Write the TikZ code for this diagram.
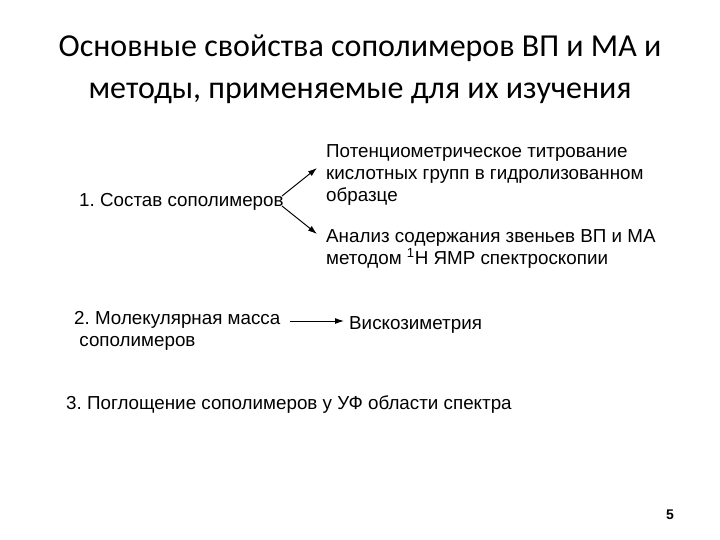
\documentclass[tikz,border=0pt]{standalone}
\usepackage{fontspec}
\usetikzlibrary{arrows.meta}
\setmainfont{Liberation Sans}
\newfontfamily\titlefont{Carlito}
\frenchspacing
\begin{document}
\begin{tikzpicture}[x=1pt,y=-1pt,
  txt/.style={anchor=north west,inner sep=0pt,align=left,font=\fontsize{18.8}{22}\selectfont},
  arr/.style={-{Latex[length=9pt,width=6pt]},line width=1pt}]
\useasboundingbox (0,0) rectangle (720,540);
\node[inner sep=0pt,align=center,font=\titlefont\fontsize{32}{42}\selectfont] (title) at (360,69) {Основные свойства сополимеров ВП и МА и\\методы, применяемые для их изучения};
\node[txt] (s1) at (79,193) {1. Состав сополимеров};
\node[txt] (p1) at (326,144) {Потенциометрическое титрование\\кислотных групп в гидролизованном\\образце};
\node[txt] (p2) at (326,229) {Анализ содержания звеньев ВП и МА\\методом \textsuperscript{1}Н ЯМР спектроскопии};
\node[txt] (s2) at (74,311) {2. Молекулярная масса\\\ сополимеров};
\node[txt] (v) at (349,316) {Вискозиметрия};
\node[txt] (s3) at (66,396) {3. Поглощение сополимеров у УФ области спектра};
\node[inner sep=0pt,font=\bfseries\fontsize{14}{14}\selectfont] (n) at (670,515) {5};
\coordinate (a0) at (282,196); \coordinate (a1) at (317,168);
\coordinate (b0) at (282,206); \coordinate (b1) at (317,234);
\coordinate (c0) at (290,321); \coordinate (c1) at (344,321);
\draw[arr] (a0) -- (a1);
\draw[arr] (b0) -- (b1);
\draw[arr] (c0) -- (c1);
\end{tikzpicture}
\end{document}
